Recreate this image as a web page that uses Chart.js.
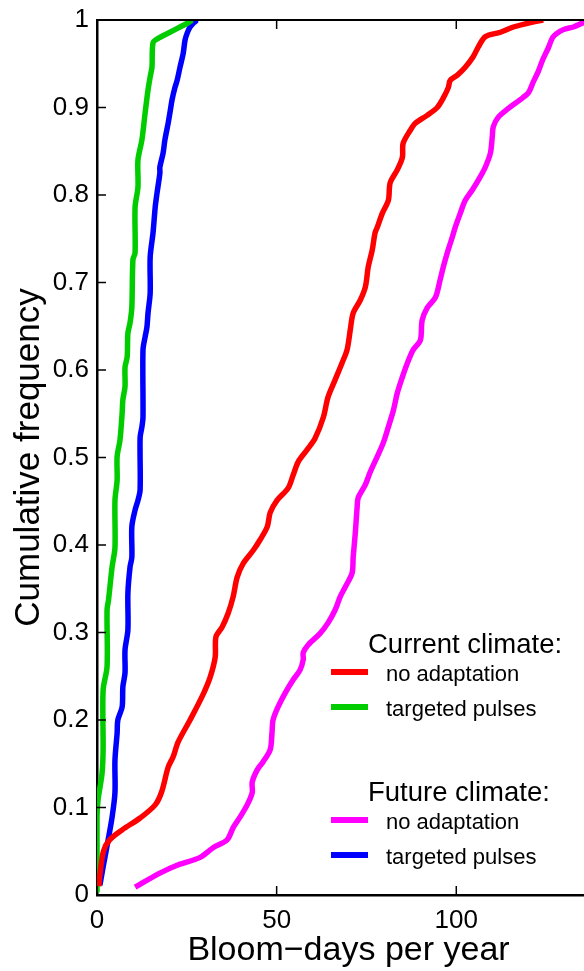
<!DOCTYPE html>
<html>
<head>
<meta charset="utf-8">
<script src="https://cdn.jsdelivr.net/npm/chart.js@4.4.1/dist/chart.umd.min.js"></script>
<style>
  html, body { margin: 0; padding: 0; background: #fff; overflow: hidden; }
  #wrap { position: absolute; left: 0; top: 0; width: 620px; height: 971px; }
</style>
</head>
<body>
<div id="wrap"><canvas id="cdfChart"></canvas></div>
<script>
// bloom-days per year (x) and cumulative frequency (y)
var curNoAdaptDays = [0.5, 0.8, 1.8, 3.5, 7.2, 12, 16.2, 18, 19.8, 21.2, 22.6, 25.9, 29.5, 31.5, 32.9, 33.1, 34.8, 36.5, 37.9, 39, 40.7, 43.5, 45.4, 47.4, 48.2, 50.1, 53.2, 54.6, 56, 58.5, 60.7, 63, 64.3, 66.3, 68.2, 69.6, 70.5, 71.3, 73.3, 74.7, 75.5, 76.6, 77.4, 78, 79.4, 81.1, 81.6, 83.6, 85, 85.2, 87.2, 88.6, 91.9, 94.7, 96.4, 97.8, 98.3, 100.3, 102.5, 104.7, 106.1, 108.1, 112.3, 115.9, 120.6, 124.2];
var curNoAdaptFreq = [0.01, 0.023, 0.05, 0.063, 0.075, 0.088, 0.103, 0.118, 0.146, 0.158, 0.175, 0.2, 0.229, 0.249, 0.272, 0.295, 0.306, 0.322, 0.341, 0.363, 0.379, 0.394, 0.406, 0.421, 0.437, 0.451, 0.465, 0.48, 0.495, 0.509, 0.522, 0.546, 0.569, 0.589, 0.608, 0.623, 0.646, 0.665, 0.68, 0.695, 0.718, 0.737, 0.757, 0.763, 0.779, 0.794, 0.814, 0.829, 0.843, 0.859, 0.874, 0.882, 0.891, 0.9, 0.911, 0.923, 0.931, 0.937, 0.946, 0.958, 0.969, 0.981, 0.986, 0.992, 0.997, 1.0];

var curPulseDays = [0, 0, 0.3, 1.4, 1.7, 1.7, 2.8, 2.8, 3.2, 4.2, 5, 5, 5.6, 5.6, 6.4, 7, 7.2, 7.8, 7.8, 8.4, 8.6, 9.2, 9.7, 10, 10.6, 10.6, 11.4, 11.4, 12.5, 13.4, 14.2, 14.8, 15.3, 15.6, 17, 20.3, 23.1, 25, 26.5];
var curPulseFreq = [0.003, 0.09, 0.109, 0.139, 0.166, 0.234, 0.261, 0.326, 0.337, 0.375, 0.397, 0.451, 0.474, 0.501, 0.52, 0.551, 0.566, 0.581, 0.603, 0.615, 0.642, 0.654, 0.672, 0.726, 0.734, 0.786, 0.809, 0.84, 0.863, 0.894, 0.92, 0.935, 0.946, 0.974, 0.979, 0.986, 0.992, 0.996, 1.0];

var futNoAdaptDays = [10.6, 17.5, 22.3, 28.7, 32.3, 36.2, 37.9, 39.8, 41.8, 43.2, 43.2, 44.6, 46.2, 48.2, 48.7, 49, 50.4, 52.4, 54.6, 56.5, 57.4, 57.4, 58.8, 62.1, 64.3, 66.3, 67.7, 69.1, 71, 71.3, 71.9, 72.4, 72.7, 74.7, 76, 78, 79.7, 81.1, 82.5, 83.6, 85, 86.4, 88, 90, 90.5, 91.9, 94.2, 95.5, 96.4, 97.5, 98.9, 99.7, 101.1, 102.5, 104.5, 106.7, 108.1, 109.5, 110, 110.3, 111.7, 114.5, 117.8, 120.1, 121.4, 122.8, 124, 125.6, 127, 129.8, 132.6, 135.4, 138];
var futNoAdaptFreq = [0.009, 0.025, 0.034, 0.043, 0.054, 0.063, 0.077, 0.089, 0.103, 0.117, 0.129, 0.143, 0.152, 0.166, 0.185, 0.2, 0.215, 0.231, 0.246, 0.257, 0.269, 0.277, 0.286, 0.299, 0.311, 0.326, 0.341, 0.352, 0.368, 0.386, 0.414, 0.443, 0.454, 0.469, 0.483, 0.501, 0.517, 0.535, 0.554, 0.574, 0.592, 0.608, 0.623, 0.634, 0.657, 0.671, 0.683, 0.703, 0.718, 0.734, 0.752, 0.763, 0.779, 0.794, 0.806, 0.821, 0.832, 0.848, 0.866, 0.878, 0.889, 0.899, 0.909, 0.917, 0.929, 0.941, 0.954, 0.968, 0.981, 0.989, 0.992, 0.997, 1.0];

var futPulseDays = [0.8, 1.7, 3.1, 4.2, 5, 5, 5.6, 5.8, 7, 7.2, 7.8, 7.8, 8.6, 8.6, 9.2, 9.7, 9.7, 10.6, 11.4, 12, 12, 12.5, 12.8, 12.8, 13.4, 13.9, 14.2, 14.8, 14.8, 15.6, 16.2, 16.7, 17.5, 17.5, 18.4, 18.9, 19.8, 20.3, 20.9, 21.7, 22.3, 23.1, 24, 24.5, 25.1, 25.9, 27, 27.8];
var futPulseFreq = [0.011, 0.032, 0.063, 0.089, 0.117, 0.154, 0.185, 0.2, 0.215, 0.238, 0.254, 0.28, 0.303, 0.345, 0.375, 0.386, 0.421, 0.44, 0.451, 0.463, 0.523, 0.535, 0.546, 0.623, 0.638, 0.649, 0.665, 0.688, 0.729, 0.757, 0.786, 0.802, 0.825, 0.832, 0.848, 0.863, 0.882, 0.894, 0.909, 0.923, 0.931, 0.946, 0.962, 0.977, 0.985, 0.992, 0.997, 1.0];

var xTicks = [0, 50, 100];
var yTicks = [0, 0.1, 0.2, 0.3, 0.4, 0.5, 0.6, 0.7, 0.8, 0.9, 1];

var FONT = '"Liberation Sans", Arial, Helvetica, sans-serif';

function pts(xs, ys) {
    return xs.map((x, i) => ({x: x, y: ys[i]}));
}

function series(label, xs, ys, color) {
    return {
        label: label,
        data: pts(xs, ys),
        borderColor: color,
        backgroundColor: color,
        borderWidth: 5.5,
        pointRadius: 0,
        tension: 0.3,
        fill: false,
        clip: 0,
        borderJoinStyle: 'round'
    };
}

// inward tick marks and the top frame line
var frame = {
    id: 'frame',
    afterDraw(chart) {
        var ctx = chart.ctx, a = chart.chartArea;
        var xs = chart.scales.x, ys = chart.scales.y;
        ctx.save();
        ctx.strokeStyle = '#000';
        ctx.lineWidth = 2;
        ctx.beginPath();
        ctx.moveTo(a.left, a.top);
        ctx.lineTo(a.right + 30, a.top);
        ctx.stroke();
        ctx.lineWidth = 1.5;
        ctx.beginPath();
        yTicks.forEach(v => {
            var y = ys.getPixelForValue(v);
            ctx.moveTo(a.left, y);
            ctx.lineTo(a.left + 9, y);
        });
        xTicks.forEach(v => {
            var x = xs.getPixelForValue(v);
            ctx.moveTo(x, a.bottom);
            ctx.lineTo(x, a.bottom - 9);
            ctx.moveTo(x, a.top);
            ctx.lineTo(x, a.top + 9);
        });
        ctx.stroke();
        ctx.restore();
    }
};

// grouped legend: heading, then one line sample per dataset
var legendGroups = [
    {title: 'Current climate:', items: [0, 1]},
    {title: 'Future climate:', items: [2, 3]}
];
var groupedLegend = {
    id: 'groupedLegend',
    afterDraw(chart) {
        var ctx = chart.ctx;
        var y = 653;
        ctx.save();
        ctx.fillStyle = '#000';
        ctx.textBaseline = 'alphabetic';
        legendGroups.forEach(g => {
            ctx.font = '27.5px ' + FONT;
            ctx.fillText(g.title, 368, y);
            y += 19;
            g.items.forEach(i => {
                var ds = chart.data.datasets[i];
                ctx.strokeStyle = ds.borderColor;
                ctx.lineWidth = 6;
                ctx.beginPath();
                ctx.moveTo(331, y);
                ctx.lineTo(368, y);
                ctx.stroke();
                ctx.font = '22px ' + FONT;
                ctx.fillText(ds.label, 386, y + 9);
                y += 35;
            });
            y += 59;
        });
        ctx.restore();
    }
};

var cdf = new Chart(document.getElementById('cdfChart'), {
    type: 'line',
    data: {
        datasets: [
            series('no adaptation', curNoAdaptDays, curNoAdaptFreq, '#ff0000'),
            series('targeted pulses', curPulseDays, curPulseFreq, '#00cc00'),
            series('no adaptation', futNoAdaptDays, futNoAdaptFreq, '#ff00ff'),
            series('targeted pulses', futPulseDays, futPulseFreq, '#0000ff')
        ]
    },
    options: {
        responsive: true,
        maintainAspectRatio: false,
        animation: false,
        layout: { padding: { left: 0, top: 20, right: 20, bottom: 0 } },
        plugins: {
            legend: { display: false },
            tooltip: { enabled: false }
        },
        scales: {
            x: {
                type: 'linear',
                min: 0,
                max: 140,
                z: 1,
                afterFit: s => { s.height = 76; },
                afterBuildTicks: s => { s.ticks = xTicks.map(v => ({value: v})); },
                grid: { display: false },
                border: { display: true, color: '#000', width: 2.5 },
                ticks: { color: '#000', padding: 2, maxRotation: 0, font: { family: FONT, size: 26 },
                         callback: v => String(v) },
                title: { display: true, text: 'Bloom\u2212days per year', color: '#000', padding: 0,
                         font: { family: FONT, size: 34 } }
            },
            y: {
                type: 'linear',
                min: 0,
                max: 1,
                z: 1,
                afterFit: s => { s.width = 97; },
                afterBuildTicks: s => { s.ticks = yTicks.map(v => ({value: v})); },
                grid: { display: false },
                border: { display: true, color: '#000', width: 2.5 },
                ticks: { color: '#000', padding: 0, font: { family: FONT, size: 26 },
                         callback: v => String(v) },
                title: { display: true, text: 'Cumulative frequency', color: '#000', padding: { top: 8 },
                         font: { family: FONT, size: 35 } }
            }
        }
    },
    plugins: [frame, groupedLegend]
});
</script>
</body>
</html>
